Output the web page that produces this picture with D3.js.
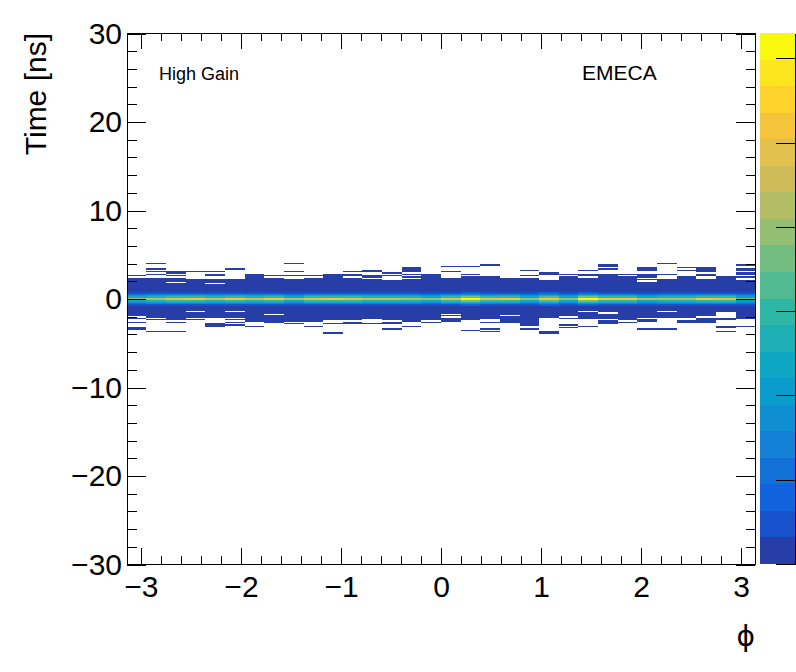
<!DOCTYPE html>
<html>
<head>
<meta charset="utf-8">
<script src="https://cdn.jsdelivr.net/npm/d3@7"></script>
<style>
 body { margin:0; background:#fff; }
 svg text { font-family: "Liberation Sans", Arial, Helvetica, sans-serif; fill:#000; }
</style>
</head>
<body>
<svg id="chart" width="796" height="672"></svg>
<script>
// histogram binning
var phiBins = 32;
var timeMin = -30, timeMax = 30, timeBinWidth = 0.15;

// counts in the two central time bins, one per phi bin
var peakCounts = [7800, 8600, 9800, 10100, 9100, 10100, 9300, 10300, 8300, 9800, 10100, 9800, 9100, 9300, 8600, 7800,
                  9800, 12400, 9600, 10100, 8100, 10600, 8100, 12500, 10300, 10100, 8300, 8800, 8800, 10100, 9800, 7300];
// shape of the core, time bins from -0.75 ns to +0.75 ns, relative to the peak
var coreShape = [0.12, 0.3, 0.45, 0.6, 1.0, 1.0, 0.6, 0.45, 0.3, 0.12];
// the dense low-count band around the core (ns)
var bandCount = 150;
var bandTop = [2.37, 2.1, 2.3, 2.15, 2.15, 2.15, 2.71, 2.15, 2.15, 2.37, 2.82, 2.3, 2.22, 1.96, 2.22, 2.82,
               2.33, 1.96, 2.52, 2.07, 1.96, 2.07, 1.96, 2.37, 2.15, 2.22, 1.92, 2.22, 1.96, 2.15, 2.15, 1.96];
var bandBottom = [-1.88, -2.07, -2.18, -2.0, -2.0, -2.0, -2.26, -2.26, -2.49, -2.26, -2.37, -2.37, -2.18, -2.26, -2.49, -2.18,
                  -1.85, -2.37, -2.18, -2.26, -2.56, -2.0, -1.81, -2.18, -2.18, -2.0, -2.0, -2.0, -2.0, -2.56, -2.3, -2.18];
// single hits above and below the band (ns)
var hitsAbove = [
  [2.6], [3.95, 3.35, 3.13, 2.82, 2.37], [3.01, 2.9, 2.6], [3.01], [3.13, 2.82, 2.71, 2.6], [3.35], [], [2.6, 2.37],
  [4.03, 3.13, 3.01, 2.6], [2.6], [], [3.05, 2.82, 2.6], [3.28, 3.05, 2.6, 2.52], [2.94, 2.6], [3.5, 3.39, 3.28, 3.05, 2.82, 2.52], [],
  [3.62, 3.05], [3.62, 2.71, 2.52, 2.37, 2.22], [3.84], [2.37, 2.22], [3.28, 2.6, 2.37, 2.15], [2.9, 2.75], [2.71, 2.52, 2.3, 2.1], [3.16, 2.82, 2.71, 2.6],
  [3.84, 3.65, 3.39, 2.82, 2.67, 2.52, 2.37], [2.71, 2.52, 2.37], [3.5, 3.39, 3.28, 2.82, 2.67, 2.52, 2.1], [3.95, 2.82],
  [3.58, 3.28, 2.52, 2.37, 2.22, 2.1], [3.5, 3.39, 3.28, 3.05, 2.82, 2.6], [2.45, 2.3], [3.84, 3.39, 3.16, 2.94, 2.71, 2.52]
];
var hitsBelow = [
  [-2.18, -2.56, -3.2, -3.35], [-2.37, -3.73], [-2.37, -2.67, -3.62], [-2.3], [-2.82, -2.97, -3.12], [-2.37, -2.67, -2.97], [-2.49, -3.09], [-2.45, -2.64],
  [-2.75], [-2.55, -3.09], [-2.71, -3.88], [-2.6, -2.75], [-2.75], [-2.6, -2.82, -3.39], [-3.09], [-2.37, -2.6],
  [-2.15, -2.37, -2.52], [-3.5], [-2.6, -3.43, -3.73], [-2.45, -2.6], [-2.75, -2.97, -3.39], [-3.62, -3.73, -3.8], [-2.11, -2.94, -3.2], [-3.09],
  [-2.45, -2.6, -2.75], [-2.18, -2.37, -2.56], [-2.37, -2.49, -3.43], [-3.31], [-2.49, -2.67], [], [-3.05, -3.24, -3.62], [-3.09]
];
// empty time bins inside the band (ns)
var emptyRows = [
  [], [], [1.88], [-1.47], [1.77], [-1.47], [], [-1.7], [], [], [], [], [], [], [], [],
  [-1.7], [], [], [-1.85], [], [], [], [-1.39], [-1.62], [], [], [-1.39], [], [-2.0], [-1.62, -1.77, -1.92, -2.07], []
];

// axes
var xTicks = [-3, -2, -1, 0, 1, 2, 3];
var yTicks = [-30, -20, -10, 0, 10, 20, 30];
var zMax = 12600;
var zTicks = [0, 2000, 4000, 6000, 8000, 10000, 12000];
var nContours = 20;

// ROOT kBird palette stops
var birdStops = [0, 0.125, 0.25, 0.375, 0.5, 0.625, 0.75, 0.875, 1];
var birdRed   = [0.2082, 0.0592, 0.0780, 0.0232, 0.1802, 0.5301, 0.8186, 0.9956, 0.9764];
var birdGreen = [0.1664, 0.3599, 0.5041, 0.6419, 0.7178, 0.7492, 0.7328, 0.7862, 0.9832];
var birdBlue  = [0.5293, 0.8684, 0.8385, 0.7914, 0.6425, 0.4662, 0.3499, 0.1968, 0.0539];

var svg = d3.select("#chart");

var x = d3.scaleLinear().domain([-Math.PI, Math.PI]).range([126.8, 755.2]);
var y = d3.scaleLinear().domain([timeMin, timeMax]).range([564.5, 33.5]);
var z = d3.scaleLinear().domain([0, zMax]).range([564, 33]);

var bird = d3.scaleLinear().domain(birdStops)
  .range(birdStops.map(function(s, i) { return d3.rgb(birdRed[i]*255, birdGreen[i]*255, birdBlue[i]*255); }))
  .interpolate(d3.interpolateRgb);
var contourColors = d3.range(nContours).map(function(i) {
  return bird(Math.floor((i + 0.99) * 255 / nContours) / 255);
});
function colorOf(v) {
  var lev = Math.min(nContours - 1, Math.floor(v / zMax * nContours));
  return contourColors[lev];
}

function binOf(t) { return Math.floor((t - timeMin) / timeBinWidth + 1e-6); }

// build the cells
var cells = [];
for (var c = 0; c < phiBins; c++) {
  var col = {};
  for (var b = binOf(bandBottom[c]); b <= binOf(bandTop[c]); b++) col[b] = bandCount;
  emptyRows[c].forEach(function(t) { delete col[binOf(t)]; });
  hitsAbove[c].forEach(function(t) { col[binOf(t)] = 1; });
  hitsBelow[c].forEach(function(t) { col[binOf(t)] = 1; });
  var b0 = binOf(-0.75 + timeBinWidth / 2);
  coreShape.forEach(function(f, j) { col[b0 + j] = Math.max(bandCount, peakCounts[c] * f); });
  Object.keys(col).forEach(function(k) {
    cells.push({ phiBin: c, timeBin: +k, count: col[k] });
  });
}

var phiWidth = 2 * Math.PI / phiBins;
// cell edges snapped to whole pixels, as ROOT does
function px(v) { return Math.round(v); }
function cx0(d) { return px(x(-Math.PI + d.phiBin * phiWidth)); }
function cx1(d) { return px(x(-Math.PI + (d.phiBin + 1) * phiWidth)); }
function cy0(d) { return px(y(timeMin + (d.timeBin + 1) * timeBinWidth)); }
function cy1(d) { return px(y(timeMin + d.timeBin * timeBinWidth)); }

svg.append("g").selectAll("rect").data(cells.filter(function(d) { return cy1(d) > cy0(d); })).join("rect")
  .attr("x", cx0)
  .attr("width", function(d) { return cx1(d) - cx0(d); })
  .attr("y", cy0)
  .attr("height", function(d) { return cy1(d) - cy0(d); })
  .attr("fill", function(d) { return colorOf(d.count); });

// axes, ticks inside the frame like ROOT
function styleAxis(g) {
  g.select(".domain").remove();
  g.selectAll("line").attr("stroke", "#000").attr("shape-rendering", "crispEdges");
  g.selectAll("text").style("font-size", "30px").attr("fill", "#000");
}
var intFormat = d3.format("d");
svg.append("g").attr("transform", "translate(0,564)")
  .call(d3.axisBottom(x).tickValues(x.ticks(30)).tickSize(-8).tickFormat("")).call(styleAxis);
svg.append("g").attr("transform", "translate(0,564)")
  .call(d3.axisBottom(x).tickValues(xTicks).tickSize(-16).tickPadding(12).tickFormat(intFormat)).call(styleAxis);
svg.append("g").attr("transform", "translate(0,33)")
  .call(d3.axisTop(x).tickValues(x.ticks(30)).tickSize(-8).tickFormat("")).call(styleAxis);
svg.append("g").attr("transform", "translate(0,33)")
  .call(d3.axisTop(x).tickValues(xTicks).tickSize(-16).tickFormat("")).call(styleAxis);

svg.append("g").attr("transform", "translate(127,0)")
  .call(d3.axisLeft(y).tickValues(y.ticks(30)).tickSize(-9.5).tickFormat("")).call(styleAxis);
svg.append("g").attr("transform", "translate(127,0)")
  .call(d3.axisLeft(y).tickValues(yTicks).tickSize(-19).tickPadding(5).tickFormat(intFormat)).call(styleAxis);
svg.append("g").attr("transform", "translate(755,0)")
  .call(d3.axisRight(y).tickValues(y.ticks(30)).tickSize(-9.5).tickFormat("")).call(styleAxis);
svg.append("g").attr("transform", "translate(755,0)")
  .call(d3.axisRight(y).tickValues(yTicks).tickSize(-19).tickFormat("")).call(styleAxis);

svg.append("rect").attr("x", 127.5).attr("y", 33.5).attr("width", 628).attr("height", 531)
  .attr("fill", "none").attr("stroke", "#000").attr("stroke-width", 1);

// palette
svg.append("g").selectAll("rect").data(d3.range(nContours)).join("rect")
  .attr("x", 760).attr("width", 35)
  .attr("y", function(i) { return Math.round(z((i + 1) * zMax / nContours)); })
  .attr("height", function(i) { return Math.round(z(i * zMax / nContours)) - Math.round(z((i + 1) * zMax / nContours)); })
  .attr("fill", function(i) { return contourColors[i]; });
svg.append("g").attr("transform", "translate(795,0)")
  .call(d3.axisLeft(z).tickValues(zTicks).tickSize(19).tickSizeOuter(0).tickFormat(""))
  .call(function(g) {
    g.selectAll("line").attr("stroke", "#000").attr("shape-rendering", "crispEdges");
    g.select(".domain").attr("stroke", "#000").attr("shape-rendering", "crispEdges");
  });

// titles
svg.append("text").attr("transform", "translate(46,33) rotate(-90)")
  .attr("text-anchor", "end").style("font-size", "30px").text("Time [ns]");
svg.append("text").attr("x", 755).attr("y", 646).attr("text-anchor", "end")
  .style("font-family", "'DejaVu Sans', sans-serif").style("font-size", "28px").text("\u03d5");
svg.append("text").attr("x", 159).attr("y", 80).style("font-size", "18px").text("High Gain");
svg.append("text").attr("x", 582).attr("y", 80).style("font-size", "21px").text("EMECA");
</script>
</body>
</html>
